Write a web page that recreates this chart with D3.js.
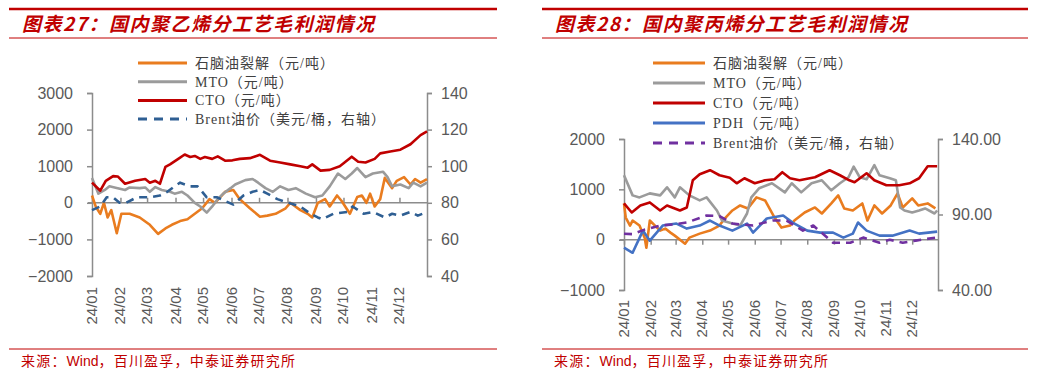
<!DOCTYPE html>
<html>
<head>
<meta charset="utf-8">
<script src="https://cdn.jsdelivr.net/npm/d3@7"></script>
<style>
  body { margin: 0; background: #fff; }
  svg { display: block; }
</style>
</head>
<body>
<div id="chart"></div>
<script>
// month labels on the x axis
var months = ["24/01","24/02","24/03","24/04","24/05","24/06","24/07","24/08","24/09","24/10","24/11","24/12"];

// 图表27 聚乙烯 (元/吨), Brent on right axis (美元/桶)
var pe_naphtha = [["01-01",200],["01-05",-100],["01-10",-300],["01-14",0],["01-18",-400],["01-22",-200],["01-28",-830],["02-02",-300],
  ["02-11",-300],["02-22",-400],["03-04",-600],["03-13",-850],["03-21",-700],["03-28",-600],["04-06",-500],["04-14",-450],
  ["04-22",-300],["04-30",-150],["05-08",100],["05-14",0],["05-25",300],["06-03",350],["06-10",100],["06-21",-150],
  ["07-02",-380],["07-10",-350],["07-19",-300],["07-30",-150],["08-04",0],["08-15",-200],["08-23",-300],["08-28",-400],
  ["09-03",0],["09-11",100],["09-16",-100],["09-24",200],["09-29",50],["10-08",-300],["10-16",160],["10-21",200],
  ["10-26",0],["10-30",250],["11-04",-100],["11-10",100],["11-15",680],["11-23",400],["11-28",600],["12-06",700],
  ["12-13",500],["12-18",650],["12-24",550],["12-31",650]];
var pe_mto = [["01-01",680],["01-08",250],["01-15",350],["01-20",450],["01-29",400],["02-06",350],["02-11",420],["02-22",400],
  ["02-28",420],["03-04",300],["03-10",430],["03-17",350],["03-26",300],["03-31",250],["04-08",300],["04-14",200],
  ["04-22",0],["04-28",-100],["05-05",-270],["05-11",-100],["05-17",100],["05-23",250],["05-31",400],["06-05",500],
  ["06-16",620],["06-24",650],["06-30",550],["07-08",400],["07-16",300],["07-24",450],["08-02",350],["08-10",400],
  ["08-21",250],["08-31",150],["09-08",200],["09-16",450],["09-25",800],["10-03",650],["10-10",800],["10-16",950],
  ["10-25",700],["11-02",800],["11-13",850],["11-18",700],["11-23",450],["12-02",500],["12-11",400],["12-16",550],
  ["12-24",450],["12-31",550]];
var pe_cto = [["01-01",550],["01-10",330],["01-16",600],["01-24",730],["01-29",720],["02-06",520],["02-17",600],["02-28",650],
  ["03-04",550],["03-10",600],["03-15",520],["03-21",980],["03-26",1050],["04-04",1200],["04-11",1320],["04-17",1250],
  ["04-22",1280],["04-28",1200],["05-03",1250],["05-11",1200],["05-17",1270],["05-25",1150],["06-02",1160],["06-10",1200],
  ["06-21",1220],["07-02",1310],["07-13",1150],["07-24",1100],["08-04",1050],["08-15",1000],["08-23",960],["08-28",1050],
  ["09-06",880],["09-16",900],["09-27",1000],["10-10",1260],["10-17",1120],["10-25",1100],["11-04",1200],["11-10",1350],
  ["11-21",1400],["12-02",1450],["12-13",1600],["12-24",1850],["12-31",1950]];
var pe_brent = [["01-01",76],["01-10",78],["01-17",83],["01-24",83],["01-31",80],["02-07",80],["02-19",83],["03-04",83],
  ["03-15",84],["03-23",86],["03-31",89],["04-06",91],["04-17",89],["04-25",89],["05-05",83],["05-16",83],["05-25",81],
  ["06-03",79],["06-14",84],["06-24",86],["07-02",87],["07-10",85],["07-21",82],["08-02",80],["08-15",78],["08-26",74],
  ["09-03",72],["09-08",71],["09-20",74],["10-05",75],["10-11",78],["10-23",74],["11-02",75],["11-15",72],["11-23",74],
  ["12-02",73],["12-13",75],["12-21",73],["12-31",75]];

// 图表28 聚丙烯 (元/吨), Brent on right axis (美元/桶)
var pp_naphtha = [["01-01",720],["01-03",440],["01-08",280],["01-11",380],["01-19",280],["01-25",40],["01-27",-160],["01-31",380],
  ["02-06",280],["02-12",180],["02-18",220],["02-24",140],["02-29",80],["03-12",-80],["03-17",40],["03-29",120],
  ["04-10",180],["04-21",280],["04-27",420],["05-06",580],["05-15",680],["05-24",620],["06-03",840],["06-13",780],
  ["06-24",440],["07-02",240],["07-12",280],["07-17",380],["07-29",540],["08-10",640],["08-18",520],["08-29",720],
  ["09-06",880],["09-13",620],["09-23",580],["10-04",720],["10-10",380],["10-18",680],["10-27",520],["11-06",680],
  ["11-14",920],["11-20",640],["12-01",820],["12-08",680],["12-19",720],["12-28",620]];
var pp_mto = [["01-01",1280],["01-11",880],["01-19",840],["01-31",920],["02-12",880],["02-20",1040],["02-29",840],["03-06",1040],
  ["03-17",880],["03-29",780],["04-06",840],["04-18",580],["04-24",380],["05-06",320],["05-15",280],["05-23",520],
  ["05-28",840],["06-06",1020],["06-21",1120],["07-06",940],["07-14",1120],["07-25",940],["08-06",1120],["08-18",1180],
  ["08-29",980],["09-08",1120],["09-18",1240],["09-24",1450],["10-01",1240],["10-09",1200],["10-18",1480],["10-24",1280],
  ["11-05",1220],["11-12",1180],["11-17",640],["11-22",580],["12-01",540],["12-09",580],["12-16",620],["12-27",520],
  ["12-30",580]];
var pp_cto = [["01-01",720],["01-10",540],["01-20",680],["01-31",740],["02-12",580],["02-20",680],["03-06",580],["03-14",640],
  ["03-21",1180],["03-29",1300],["04-10",1380],["04-21",1280],["05-03",1230],["05-11",1120],["05-20",1220],["06-01",1120],
  ["06-13",1180],["06-24",1200],["07-03",1340],["07-12",1220],["07-23",1180],["08-10",1240],["08-27",1380],["09-08",1280],
  ["09-19",1180],["09-25",1140],["10-09",1320],["10-18",1180],["11-01",1080],["11-16",1080],["11-28",1120],["12-09",1220],
  ["12-19",1460],["12-30",1460]];
var pp_pdh = [["01-01",-160],["01-11",-260],["01-23",180],["01-31",-20],["02-15",280],["03-02",320],["03-14",220],["03-29",280],
  ["04-10",380],["04-21",280],["05-06",180],["05-23",320],["05-30",140],["06-15",420],["07-04",480],["07-15",340],
  ["08-01",180],["08-16",140],["08-31",140],["09-12",40],["09-23",120],["09-29",340],["10-09",180],["10-24",80],
  ["11-08",80],["11-28",180],["12-09",120],["12-30",160]];
var pp_brent = [["01-01",77.3],["01-11",77],["01-25",80],["02-12",82.7],["02-29",83.5],["03-14",84.7],["04-06",89.3],["04-21",89],
  ["05-06",84],["05-30",82.7],["06-22",86],["07-08",86],["07-27",79.3],["08-08",82.7],["08-31",71.3],["09-20",71.3],
  ["10-05",74.7],["10-24",71.3],["11-05",73.3],["11-20",71.3],["12-05",72.7],["12-28",74.7]];

var W = 1041, H = 375;
var parseD = d3.timeParse("%Y-%m-%d");
var axisGray = "#8c8c8c", textGray = "#595959", darkRed = "#c00000";
var cjk = "'Liberation Serif', 'Noto Sans CJK SC', serif";

var svg = d3.select("#chart").append("svg")
    .attr("width", W)
    .attr("height", H)
    .style("background", "#fff");

function toPts(arr) {
    return arr.map(function(d) { return {date: parseD("2024-" + d[0]), v: d[1]}; });
}

function drawPanel(cfg) {
    var g = svg.append("g");

    // header and footer rules
    g.append("line").attr("x1", cfg.left).attr("x2", cfg.right).attr("y1", 9).attr("y2", 9)
        .attr("stroke", darkRed).attr("stroke-width", 2.5);
    g.append("line").attr("x1", cfg.left).attr("x2", cfg.right).attr("y1", 38).attr("y2", 38)
        .attr("stroke", darkRed).attr("stroke-width", 1);
    g.append("line").attr("x1", cfg.left).attr("x2", cfg.right).attr("y1", 349).attr("y2", 349)
        .attr("stroke", darkRed).attr("stroke-width", 1);

    g.append("text").attr("x", cfg.left + 13).attr("y", 31)
        .attr("fill", darkRed)
        .style("font-family", "'Noto Sans CJK SC', sans-serif")
        .style("font-size", "19px").style("font-weight", "bold").style("font-style", "italic")
        .style("letter-spacing", "1.5px")
        .text(cfg.title);

    var foot = g.append("text").attr("x", cfg.left + 12).attr("y", 366)
        .attr("fill", darkRed)
        .style("font-family", "'Noto Sans CJK SC', sans-serif")
        .style("font-size", "14px").style("letter-spacing", "1.2px");
    foot.append("tspan").text("来源：");
    foot.append("tspan").style("font-family", "'Liberation Sans', Arial, sans-serif").style("letter-spacing", "0px").text("Wind");
    foot.append("tspan").text("，百川盈孚，中泰证券研究所");

    // scales
    var x = d3.scaleTime()
        .domain([parseD("2024-01-01"), parseD("2024-12-31")])
        .range([cfg.x0, cfg.x1]);
    var y = d3.scaleLinear().domain(cfg.yDomain).range([cfg.yBottom, cfg.yTop]);
    var y2 = d3.scaleLinear().domain(cfg.y2Domain).range([cfg.yBottom, cfg.yTop]);

    // left axis
    var yAx = g.append("g").attr("transform", "translate(" + cfg.x0 + ",0)")
        .call(d3.axisLeft(y).tickValues(cfg.yTicks).tickSize(5).tickPadding(14).tickFormat(d3.format("d")));
    // right axis
    var y2Ax = g.append("g").attr("transform", "translate(" + cfg.x1 + ",0)")
        .call(d3.axisRight(y2).tickValues(cfg.y2Ticks).tickSize(5).tickPadding(9).tickFormat(cfg.y2Format));
    [yAx, y2Ax].forEach(function(a) {
        a.select(".domain").attr("stroke", axisGray).attr("stroke-width", 1.5);
        a.selectAll(".tick line").attr("stroke", axisGray).attr("stroke-width", 1.5);
        a.selectAll(".tick text").attr("fill", textGray)
            .style("font-family", "'Liberation Sans', Arial, sans-serif").style("font-size", "16px");
    });

    // x axis at zero
    var monthDates = months.map(function(m, i) { return new Date(2024, i, 1); });
    var xAx = g.append("g").attr("transform", "translate(0," + y(0) + ")")
        .call(d3.axisBottom(x).tickValues(monthDates).tickSize(cfg.xTickDir * 5).tickFormat(""));
    xAx.select(".domain").attr("stroke", axisGray).attr("stroke-width", 1.5)
        .attr("d", "M" + (cfg.x0 - 4) + ",0H" + cfg.x1);
    xAx.selectAll(".tick line").attr("stroke", axisGray).attr("stroke-width", 1.5);

    g.selectAll(".mlabel").data(monthDates).enter().append("text")
        .attr("class", "mlabel")
        .attr("transform", function(d) { return "translate(" + (x(d) + 5) + "," + cfg.labelTop + ") rotate(-90)"; })
        .attr("text-anchor", "end")
        .attr("fill", textGray)
        .style("font-family", "'Liberation Sans', Arial, sans-serif").style("font-size", "15px")
        .text(function(d, i) { return months[i]; });

    // series
    var line = d3.line().x(function(d) { return x(d.date); }).y(function(d) { return y(d.v); });
    var line2 = d3.line().x(function(d) { return x(d.date); }).y(function(d) { return y2(d.v); });

    cfg.series.forEach(function(s) {
        g.append("path").datum(toPts(s.data))
            .attr("fill", "none")
            .attr("stroke", s.color)
            .attr("stroke-width", 2.6)
            .attr("stroke-linejoin", "round")
            .attr("stroke-dasharray", s.dash ? "8,6" : null)
            .attr("d", s.right ? line2 : line);
    });

    // legend
    var lg = g.selectAll(".lg").data(cfg.series).enter().append("g")
        .attr("transform", function(d, i) { return "translate(" + cfg.legX + "," + (cfg.legY + i * cfg.legStep) + ")"; });
    lg.append("line").attr("x1", 0).attr("x2", cfg.legLen).attr("y1", 0).attr("y2", 0)
        .attr("stroke", function(d) { return d.color; })
        .attr("stroke-width", 3)
        .attr("stroke-dasharray", function(d) { return d.dash ? "9,7" : null; });
    lg.append("text").attr("x", cfg.legLen + 8).attr("y", 5)
        .attr("fill", "#404040")
        .style("font-family", cjk).style("font-size", "14px")
        .style("letter-spacing", "1px")
        .text(function(d) { return d.name; });
}

drawPanel({
    left: 9, right: 497,
    title: "图表27：国内聚乙烯分工艺毛利润情况",
    x0: 92, x1: 427,
    yTop: 93, yBottom: 276,
    yDomain: [-2000, 3000], yTicks: [-2000, -1000, 0, 1000, 2000, 3000],
    y2Domain: [40, 140], y2Ticks: [40, 60, 80, 100, 120, 140], y2Format: d3.format("d"),
    xTickDir: -1, labelTop: 287,
    legX: 138, legY: 63, legStep: 18.7, legLen: 49,
    series: [
        {name: "石脑油裂解（元/吨）", data: pe_naphtha, color: "#e97c1f"},
        {name: "MTO（元/吨）", data: pe_mto, color: "#9b9b9b"},
        {name: "CTO（元/吨）", data: pe_cto, color: "#c00000"},
        {name: "Brent油价（美元/桶，右轴）", data: pe_brent, color: "#2f5f93", dash: true, right: true}
    ]
});

drawPanel({
    left: 542, right: 1028,
    title: "图表28：国内聚丙烯分工艺毛利润情况",
    x0: 624, x1: 938,
    yTop: 139, yBottom: 290,
    yDomain: [-1000, 2000], yTicks: [-1000, 0, 1000, 2000],
    y2Domain: [40, 140], y2Ticks: [40, 90, 140], y2Format: d3.format(".2f"),
    xTickDir: 1, labelTop: 300,
    legX: 653, legY: 63, legStep: 20, legLen: 52,
    series: [
        {name: "石脑油裂解（元/吨）", data: pp_naphtha, color: "#e97c1f"},
        {name: "MTO（元/吨）", data: pp_mto, color: "#9b9b9b"},
        {name: "CTO（元/吨）", data: pp_cto, color: "#c00000"},
        {name: "PDH（元/吨）", data: pp_pdh, color: "#4472c4"},
        {name: "Brent油价（美元/桶，右轴）", data: pp_brent, color: "#7030a0", dash: true, right: true}
    ]
});
</script>
</body>
</html>
